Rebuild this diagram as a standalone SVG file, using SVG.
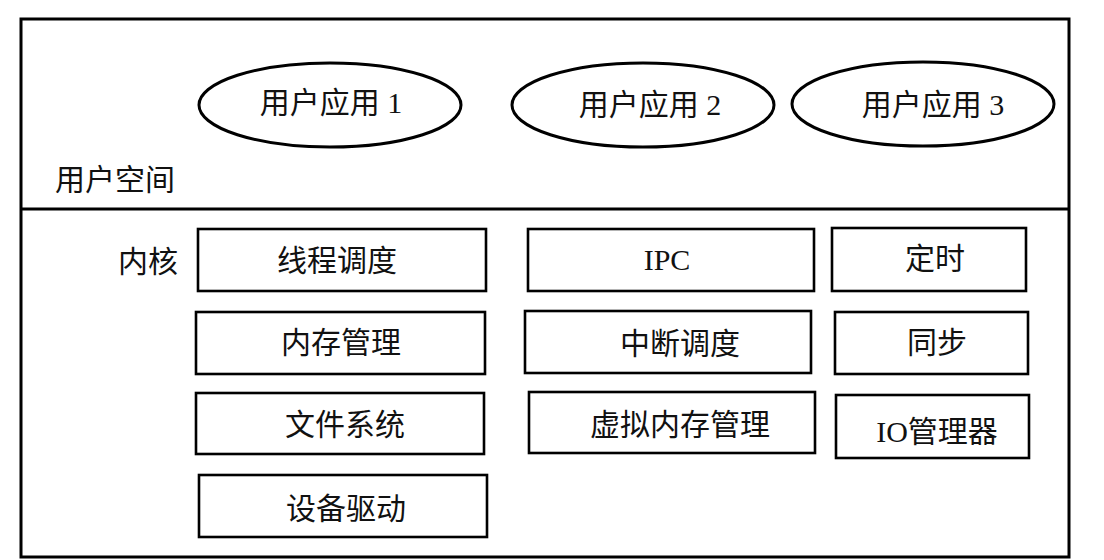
<svg xmlns="http://www.w3.org/2000/svg" width="1104" height="560" viewBox="0 0 1104 560">
<style>
.frame{fill:none;stroke:#000;stroke-width:3}
.box{fill:#fff;stroke:#000;stroke-width:2.6}
.ell{fill:#fff;stroke:#000;stroke-width:3}
text{font-family:"Liberation Serif","Noto Sans CJK SC",serif;font-size:30px;fill:#111}
.c{text-anchor:middle}
</style>
<rect width="1104" height="560" fill="#fff"/>
<g id="frame">
<rect class="frame" x="21" y="19" width="1048" height="538"/>
<line class="frame" x1="21" y1="209" x2="1069" y2="209"/>
<text x="55" y="190">用户空间</text>
<text x="118" y="272">内核</text>
</g>
<g id="connectors"></g>
<g id="app1"><ellipse class="ell" cx="330" cy="105" rx="131" ry="42"/><text class="c" x="331" y="113">用户应用 1</text></g>
<g id="app2"><ellipse class="ell" cx="643" cy="105" rx="131" ry="42"/><text class="c" x="650" y="115">用户应用 2</text></g>
<g id="app3"><ellipse class="ell" cx="923" cy="104" rx="131" ry="42"/><text class="c" x="933" y="115">用户应用 3</text></g>
<g id="thread"><rect class="box" x="198" y="229" width="288" height="62"/><text class="c" x="337" y="271">线程调度</text></g>
<g id="ipc"><rect class="box" x="528" y="229" width="286" height="62"/><text class="c" x="667" y="270">IPC</text></g>
<g id="timer"><rect class="box" x="832" y="228" width="194" height="63"/><text class="c" x="935" y="269">定时</text></g>
<g id="mem"><rect class="box" x="196" y="312" width="289" height="62"/><text class="c" x="341" y="353">内存管理</text></g>
<g id="irq"><rect class="box" x="525" y="311" width="286" height="62"/><text class="c" x="680" y="354">中断调度</text></g>
<g id="sync"><rect class="box" x="835" y="312" width="193" height="62"/><text class="c" x="937" y="353">同步</text></g>
<g id="fs"><rect class="box" x="196" y="393" width="288" height="61"/><text class="c" x="345" y="435">文件系统</text></g>
<g id="vmem"><rect class="box" x="529" y="392" width="286" height="61"/><text class="c" x="680" y="435">虚拟内存管理</text></g>
<g id="io"><rect class="box" x="836" y="395" width="193" height="63"/><text class="c" x="937" y="442">IO管理器</text></g>
<g id="drv"><rect class="box" x="199" y="475" width="288" height="62"/><text class="c" x="346" y="519">设备驱动</text></g>
</svg>
